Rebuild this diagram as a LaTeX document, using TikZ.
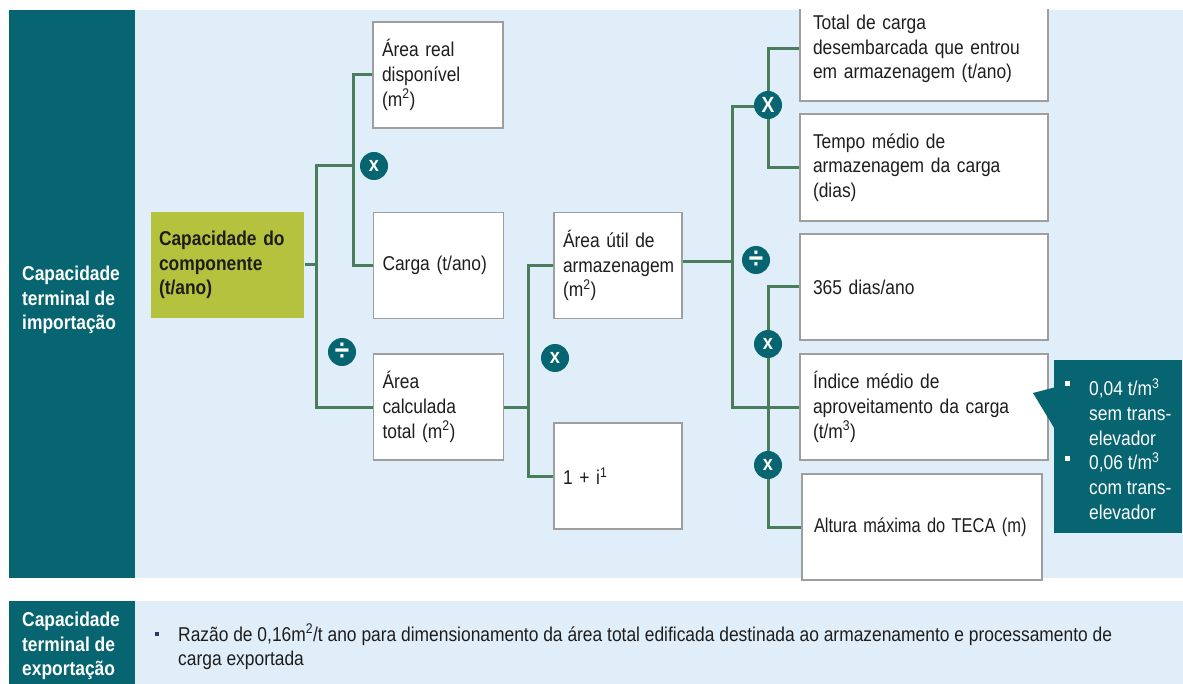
\documentclass[tikz,border=0pt]{standalone}
\usepackage{fontspec}
\usepackage{graphicx}
\setmainfont{Liberation Sans}[FakeStretch=0.87]
\definecolor{tealc}{HTML}{066570}
\definecolor{bgblue}{HTML}{E0EEF9}
\definecolor{greenbox}{HTML}{B5C23D}
\definecolor{linec}{HTML}{4A7D5C}
\definecolor{boxgray}{HTML}{9E9E9E}
\definecolor{txtc}{HTML}{1E1E1E}
\definecolor{navy}{HTML}{2B3A67}
\newcommand\boxfont{\fontsize{20}{24.7}\selectfont}
\newcommand\opfont{\fontsize{21}{21}\selectfont\bfseries}
\newcommand\divfont{\fontsize{30}{30}\selectfont\bfseries}
\begin{document}
\begin{tikzpicture}[x=1pt,y=-1pt,
  box/.style={draw=boxgray, line width=1.2pt, fill=white, align=left, inner xsep=9pt, inner ysep=0pt,
    minimum height=106pt, text width=112pt, font=\boxfont, text=txtc},
  rbox/.style={box, text width=222pt, inner xsep=13pt},
  conn/.style={draw=linec, line width=3pt},
  op/.style={circle, fill=tealc, text=white, minimum size=28pt, inner sep=0pt, font=\opfont},
  divop/.style={op, font=\divfont},
  side/.style={text=white, font=\boxfont\bfseries, align=left, inner sep=0pt, anchor=west}]
\useasboundingbox (0,0) rectangle (1183,684);
\begin{scope}
\clip (0,10) rectangle (1183,684);
% backgrounds
\fill[tealc] (9,10) rectangle (135,578);
\fill[bgblue] (135,10) rectangle (1183,578);
\fill[tealc] (9,601) rectangle (135,684);
\fill[bgblue] (135,601) rectangle (1183,684);
\node[side] (impl) at (22,300) {Capacidade\\terminal de\\importação};
\node[side] (expl) at (22,646) {Capacidade\\terminal de\\exportação};

% boxes
\node[box, fill=greenbox, draw=none, text width=137pt, inner xsep=8pt, font=\boxfont\bfseries] (comp) at (227.5,265) {Capacidade do\\componente\\(t/ano)};
\node[box] (A) at (438,75) {Área real\\disponível\\(m\textsuperscript{2})};
\node[box] (carga) at (438.5,265.5) {Carga (t/ano)};
\node[box] (calc) at (438.5,407) {Área\\calculada\\total (m\textsuperscript{2})};
\node[box, text width=110pt] (util) at (618,265.5) {Área útil de\\armazenagem\\(m\textsuperscript{2})};
\node[box, text width=110pt] (one) at (618,476) {1 + i\textsuperscript{1}};
\node[rbox, minimum height=104pt] (total) at (924,49) {Total de carga\\desembarcada que entrou\\em armazenagem (t/ano)};
\node[rbox, minimum height=107pt] (tempo) at (924,167.5) {Tempo médio de\\armazenagem da carga\\(dias)};
\node[rbox] (d365) at (924,287) {365 dias/ano};
\node[rbox] (indice) at (924,407) {Índice médio de\\aproveitamento da carga\\(t/m\textsuperscript{3})};
\node[rbox, text width=216pt, inner xsep=12pt] (altura) at (922,527) {\scalebox{0.945}[1]{Altura máxima do TECA (m)}};

% connectors
\coordinate (j1) at (353,166);
\coordinate (j0) at (316,265);
\coordinate (j2) at (528,407);
\coordinate (j3) at (732,262);
\coordinate (j4) at (768,107);
\coordinate (j5) at (768,407);
\draw[conn] (A.west) -| (j1) |- (carga.west);
\draw[conn] (j1) -- (316,166) |- (calc.west);
\draw[conn] (comp.east) -- (j0);
\draw[conn] (util.west) -| (j2) |- (one.west);
\draw[conn] (calc.east) -- (j2);
\draw[conn] ([yshift=3.5pt]util.east) -- (j3);
\draw[conn] (total.west) -| (j4) |- (tempo.west);
\draw[conn] (j4) -- (732,107) |- (indice.west);
\draw[conn] (d365.west) -| (j5) |- (altura.west);

% operators
\node[op] (o1) at (374,166) {x};
\node[divop] (o2) at (342,352) {÷};
\node[op] (o3) at (555,358) {x};
\node[op, font=\fontsize{22}{22}\selectfont\bfseries] (o4) at (768,105) {X};
\node[divop] (o5) at (756,260) {÷};
\node[op] (o6) at (768,344) {x};
\node[op] (o7) at (768,465) {x};

% callout
\fill[tealc] (1054,360) rectangle (1182,533);
\fill[tealc] (1033,393) -- (1056,387) -- (1056,431) -- cycle;
\fill[white] (1064.5,381) rectangle (1069.5,386);
\fill[white] (1064.5,456) rectangle (1069.5,461);
\node[side, font=\boxfont] (note) at (1089,449) {0,04 t/m\textsuperscript{3}\\sem trans-\\elevador\\0,06 t/m\textsuperscript{3}\\com trans-\\elevador};

% export strip
\fill[navy] (154.5,631.5) rectangle (159,636);
\node[side, text=txtc, font=\boxfont] (exptext) at (178,647) {Razão de 0,16m\textsuperscript{2}/t ano para dimensionamento da área total edificada destinada ao armazenamento e processamento de\\carga exportada};
\end{scope}
\end{tikzpicture}
\end{document}
